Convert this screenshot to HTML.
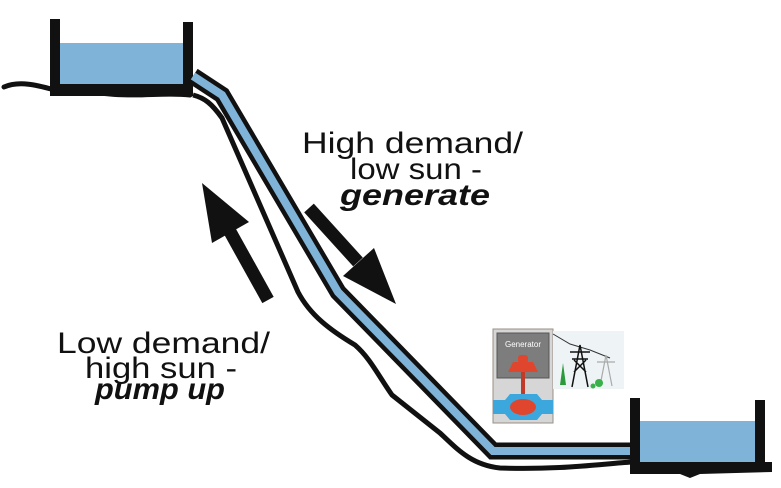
<!DOCTYPE html>
<html><head><meta charset="utf-8"><style>
html,body{margin:0;padding:0;background:#fff;}
svg{display:block;}
text{font-family:"Liberation Sans",sans-serif;fill:#111;}
</style></head><body>
<svg width="781" height="488" viewBox="0 0 781 488">
<path d="M4,87 C20,80 40,86 55,90 C80,96 95,92 110,94 C140,97 165,92 190,95" fill="none" stroke="#111" stroke-width="5" stroke-linecap="round"/>
<rect x="60" y="43" width="124" height="42" fill="#7fb4d8"/>
<rect x="50" y="19" width="10" height="76" fill="#111"/>
<rect x="183" y="22" width="10" height="74" fill="#111"/>
<rect x="50" y="84" width="143" height="12" fill="#111"/>
<path d="M193,95 C205,98 212,104 222,118 L298,292 C310,315 330,330 355,345 C370,358 378,375 392,395 L440,433 C458,450 472,465 500,468 C560,470 600,464 632,462" fill="none" stroke="#111" stroke-width="5"/>
<path d="M193,76 L222,95 L338,292 L493,451 L632,451" fill="none" stroke="#111" stroke-width="17" stroke-linejoin="miter"/>
<path d="M193,76 L222,95 L338,292 L493,451 L632,451" fill="none" stroke="#7fb4d8" stroke-width="8" stroke-linejoin="miter"/>
<rect x="640" y="421" width="116" height="42" fill="#7fb4d8"/>
<rect x="630" y="398" width="10" height="74" fill="#111"/>
<rect x="755" y="400" width="10" height="72" fill="#111"/>
<path d="M630,462 L772,462 L772,472 L700,474 L690,478 L680,474 L630,474 Z" fill="#111"/>
<line x1="268" y1="300" x2="228" y2="228" stroke="#111" stroke-width="13"/>
<polygon points="202,183 212,243 249,222" fill="#111"/>
<line x1="309" y1="208" x2="358" y2="262" stroke="#111" stroke-width="13"/>
<polygon points="396,304 343,276 374,248" fill="#111"/>
<rect x="493" y="329" width="60" height="94" fill="#d6d6d6" stroke="#9a8f86" stroke-width="1"/>
<rect x="497" y="333" width="52" height="45" fill="#7d7d7d" stroke="#555" stroke-width="1"/>
<text x="523" y="347" font-size="8" style="fill:#fff" text-anchor="middle">Generator</text>
<rect x="518" y="355" width="10" height="8" rx="3" fill="#e0452d"/>
<path d="M508,372 L513,362 L533,362 L538,372 Z" fill="#e0452d"/>
<rect x="521" y="372" width="4" height="28" fill="#c23a28"/>
<path d="M493,400 L505,400 L510,394 L537,394 L542,400 L553,400 L553,414 L542,414 L537,420 L510,420 L505,414 L493,414 Z" fill="#3ca7dd"/>
<ellipse cx="523" cy="407" rx="13" ry="8" fill="#e0452d"/>
<rect x="553" y="331" width="71" height="58" fill="#eef3f6"/>
<path d="M553,334 L570,344 L590,350 L610,358" fill="none" stroke="#333" stroke-width="1"/>
<path d="M572,387 L580,345 L588,387 M574,360 L586,372 M586,360 L574,372 M570,352 L590,352 M572,359 L588,359" fill="none" stroke="#111" stroke-width="1.5"/>
<path d="M600,386 L606,355 L612,386 M597,362 L615,362" fill="none" stroke="#aaa" stroke-width="1.2"/>
<path d="M560,385 L563,363 L566,385 Z" fill="#2a9a3a"/>
<circle cx="599" cy="383" r="4" fill="#3ab04a"/>
<circle cx="593" cy="386" r="2.5" fill="#3ab04a"/>
<text x="302" y="153" font-size="30" textLength="221" lengthAdjust="spacingAndGlyphs">High demand/</text>
<text x="350" y="179" font-size="30" textLength="132" lengthAdjust="spacingAndGlyphs">low sun -</text>
<text x="340" y="205" font-size="30" font-weight="bold" font-style="italic" textLength="150" lengthAdjust="spacingAndGlyphs">generate</text>
<text x="57" y="353" font-size="30" textLength="213" lengthAdjust="spacingAndGlyphs">Low demand/</text>
<text x="85" y="378" font-size="30" textLength="152" lengthAdjust="spacingAndGlyphs">high sun -</text>
<text x="95" y="399" font-size="30" font-weight="bold" font-style="italic" textLength="130" lengthAdjust="spacingAndGlyphs">pump up</text>
</svg>
</body></html>
